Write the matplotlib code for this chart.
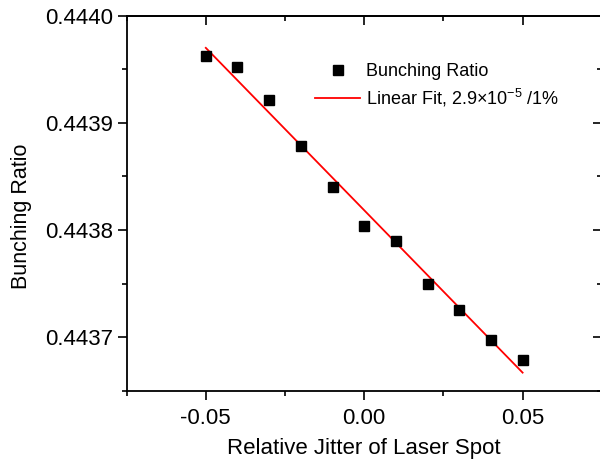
import numpy as np
import matplotlib
matplotlib.use("Agg")
import matplotlib.pyplot as plt
from matplotlib.ticker import MultipleLocator, FormatStrFormatter, NullFormatter

plt.rcParams["font.family"] = ["Liberation Sans", "DejaVu Sans"]
plt.rcParams["mathtext.fontset"] = "custom"
plt.rcParams["mathtext.rm"] = "Liberation Sans"
plt.rcParams["mathtext.it"] = "Liberation Sans:italic"

# data
jitter = [-0.05, -0.04, -0.03, -0.02, -0.01, 0.00, 0.01, 0.02, 0.03, 0.04, 0.05]
bunching = [0.443962, 0.443952, 0.443921, 0.443878, 0.443840, 0.443804,
            0.443790, 0.443750, 0.443725, 0.443697, 0.443679]
fit_x = [-0.05, 0.05]
fit_y = [0.443970, 0.443667]

fig = plt.figure(figsize=(6.0, 4.62), dpi=100)
ax = fig.add_axes([0.211, 0.154, 0.792, 0.812])

ax.plot(jitter, bunching, linestyle="none", marker="s", markersize=7.5,
        color="black", label="Bunching Ratio", zorder=3)
ax.plot(fit_x, fit_y, color="red", linewidth=1.3,
        label="Linear Fit, 2.9\u00d710$^{-5}$ /1%", zorder=2)

ax.set_xlim(-0.075, 0.075)
ax.set_ylim(0.44365, 0.4440)

ax.xaxis.set_major_locator(MultipleLocator(0.05))
ax.xaxis.set_minor_locator(MultipleLocator(0.025))
ax.yaxis.set_major_locator(MultipleLocator(0.0001))
ax.yaxis.set_minor_locator(MultipleLocator(0.00005))
ax.xaxis.set_major_formatter(FormatStrFormatter("%.2f"))
ax.yaxis.set_major_formatter(FormatStrFormatter("%.4f"))

for side in ["left", "bottom", "top", "right"]:
    ax.spines[side].set_linewidth(1.3)

# outward ticks on left/bottom
ax.tick_params(axis="both", which="major", direction="out", length=6.5,
               width=1.2, labelsize=16)
ax.tick_params(axis="x", which="major", pad=6)
ax.tick_params(axis="y", which="major", pad=3)
ax.tick_params(axis="both", which="minor", direction="out", length=3.5, width=1.2)

# inward ticks on top/right, no labels
top = ax.secondary_xaxis("top")
top.xaxis.set_major_locator(MultipleLocator(0.05))
top.xaxis.set_minor_locator(MultipleLocator(0.025))
top.xaxis.set_major_formatter(NullFormatter())
top.tick_params(which="major", direction="in", length=6.5, width=1.2)
top.tick_params(which="minor", direction="in", length=3.5, width=1.2)
top.spines["top"].set_linewidth(1.3)

right = ax.secondary_yaxis("right")
right.yaxis.set_major_locator(MultipleLocator(0.0001))
right.yaxis.set_minor_locator(MultipleLocator(0.00005))
right.yaxis.set_major_formatter(NullFormatter())
right.tick_params(which="major", direction="in", length=6.5, width=1.2)
right.tick_params(which="minor", direction="in", length=3.5, width=1.2)
right.spines["right"].set_linewidth(1.3)

ax.set_xlabel("Relative Jitter of Laser Spot", fontsize=16, labelpad=6)
ax.set_ylabel("Bunching Ratio", fontsize=15.5)
ax.yaxis.set_label_coords(-0.199, 0.466)

ax.legend(loc="upper left", bbox_to_anchor=(0.397, 0.874), frameon=False,
          fontsize=13, numpoints=1, handlelength=2.5, handletextpad=0.3,
          labelspacing=0.4, borderpad=0, borderaxespad=0)

fig.savefig("out.png", dpi=100)
